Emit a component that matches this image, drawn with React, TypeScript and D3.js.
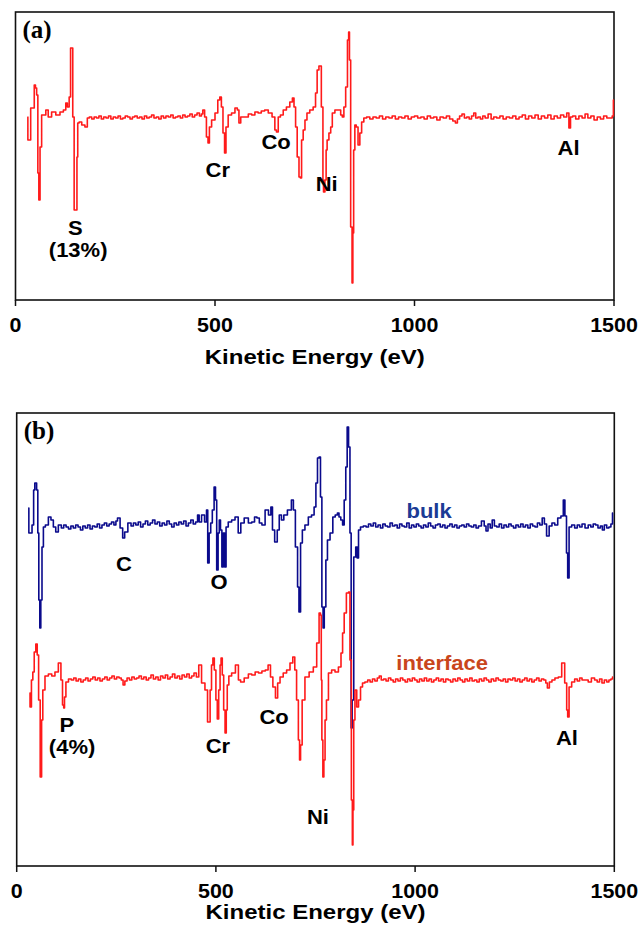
import React from "react";
import * as d3 from "d3";

// ---------- data ----------
const TICKS = [0, 500, 1000, 1500];

// Panel (a): Auger spectrum [kinetic energy eV, dN/dE (a.u.)]
const spectrumA: [number, number][] = [
  [30, 1], [32, -22], [38, -22], [38.1, 10], [45, 10], [49, 33], [51, 30], [55, 23], [57, -55], [60, -82],
  [63, -29], [68, 3], [74, 3], [78, 8], [86, 1], [95, 6], [107, 3], [116, 6], [124, 8], [128, 15],
  [132, 11], [137, 21], [139, 70], [142, 70], [145, 1], [149, -92], [153, -92], [155, -39], [157, -5],
  [162, -4], [170, -7], [178, -9], [182, 0],
  [188, 1], [194, -1], [200, 1], [206, 0], [212, 2], [218, -1], [224, 1], [230, 0], [236, 2], [242, -1],
  [248, 1], [254, 0], [260, 2], [266, -1], [272, 0], [278, 2], [284, 1], [290, -1], [296, 1], [302, 2],
  [308, 0], [314, 1], [320, -1], [326, 2], [332, 0], [338, 1], [344, 3], [350, 0], [356, 1], [362, -1],
  [368, 2], [374, 0], [380, 2], [386, 1], [392, 3], [398, 0], [404, 1], [410, 2], [416, 0], [422, 3],
  [428, 1], [434, 2], [440, 4], [446, 1], [452, 3], [458, 5], [464, 2], [468, 4],
  [471, 8], [477, 1], [480, -19], [485, -25], [487, -9], [496, -2], [504, 5], [510, 18], [514, 21],
  [518, 11], [522, -15], [526, -35], [529, -9], [537, 3], [546, 5], [554, 10], [558, 8], [562, -5],
  [567, 1], [579, 1], [588, 4], [596, 3], [604, 6], [612, 5], [620, 7], [629, 8], [638, 5], [648, 1],
  [652, -12], [656, -14], [661, 1], [667, 3], [675, 8], [683, 11], [692, 16], [696, 20], [700, 11],
  [704, -9], [708, -39], [713, -59], [715, -60], [719, -22], [723, -12], [728, -2], [733, 5], [742, 8],
  [750, 11], [754, 25], [758, 48], [763, 52], [770, 11], [771, -62], [773, -74], [778, -62], [779, -32],
  [783, -22], [788, -15], [792, -9], [796, 5], [805, 8], [813, 8], [817, 3], [821, 1], [825, 11],
  [830, 31], [834, 78], [836, 86], [838, 58], [842, -109], [845, -165], [846, -115], [849, -32],
  [852, -7], [856, -9], [861, -27], [865, -15], [870, -4], [876, 0],
  [884, 1], [892, -1], [900, 1], [908, 0], [916, 2], [924, -1], [932, 1], [940, 0], [948, 2], [956, -1],
  [964, 1], [972, 0], [980, 2], [988, -1], [996, 1], [1004, 2], [1012, 0], [1020, 1], [1028, -1],
  [1036, 2], [1044, 0], [1052, 1], [1060, -2], [1068, 1], [1076, 0], [1084, 2], [1092, -1], [1100, -3],
  [1105, -5], [1110, -1], [1116, 2], [1122, 4], [1128, 0], [1134, 1], [1140, -1], [1146, 2], [1151, 5],
  [1156, 0], [1162, 1], [1168, -1], [1174, 2], [1180, 0], [1189, 4], [1195, -1], [1202, 1], [1210, 0],
  [1218, 2], [1226, -1], [1234, 1], [1242, 0], [1250, 2], [1258, -1], [1266, 1], [1274, 3], [1282, -1],
  [1290, 2], [1298, 0], [1306, 3], [1314, -1], [1322, 2], [1330, 0], [1338, 3], [1346, -1], [1354, 2],
  [1362, 0], [1370, 3], [1378, 1], [1385, 5], [1389, -10], [1393, 1], [1400, 2], [1408, -1], [1416, 2],
  [1424, 0], [1431, 4], [1438, 0], [1446, 2], [1454, -2], [1462, 1], [1470, -1], [1478, 2], [1486, 0],
  [1494, 0], [1497, 2], [1500, 18],
];

// Panel (b): bulk spectrum
const spectrumBulk: [number, number][] = [
  [29, 18], [32, -7], [38, -7], [39, 1], [42, 1], [43, 36], [48, 43], [52, 36], [54, -7], [57, -74],
  [59, -102], [62, -74], [65, -21], [69, -1], [75, 1], [84, 9], [88, 6], [96, -1], [100, -6], [109, 1],
  [115, -2], [121, 1], [127, -1], [133, -3], [139, 0], [145, -2], [151, 1], [157, -1], [163, -4], [169, 0],
  [175, -2], [181, 1], [187, -3], [193, 0], [199, -1], [205, 2], [211, -2], [217, 1], [223, 3], [229, 0],
  [235, 2], [241, 4], [247, 1], [251, 5], [255, 8], [264, -2], [268, -12], [274, -6], [284, 3],
  [290, 0], [296, 3], [302, 1], [308, 4], [314, -1], [320, 2], [326, 5], [332, 1], [338, 3], [344, 6],
  [350, 2], [356, 4], [362, 0], [368, 3], [374, 1], [380, 5], [386, 2], [392, -1], [398, 3], [404, 1],
  [410, 4], [416, 2], [422, 5], [428, 0], [434, 3], [440, 6], [446, 2], [452, 4],
  [456, 11], [460, 4], [468, 11], [475, 4], [478, 16], [481, -37], [485, -7], [489, 3], [493, 16],
  [498, 39], [500, 26], [504, -44], [507, -7], [510, 6], [513, -4], [517, -41], [520, -7], [524, -41],
  [527, -1], [535, 4], [544, 6], [552, 9], [560, -7], [565, 3], [577, 8], [586, 3], [594, 4], [600, 9],
  [606, 8], [612, 3], [619, 1], [628, 16], [636, 11], [640, 19], [644, -4], [651, -16], [657, -4],
  [661, 11], [668, 6], [673, 11], [686, 16], [693, 26], [696, 16], [703, -21], [707, -61], [710, -86],
  [715, -17], [719, -4], [728, 1], [736, 9], [744, 11], [749, 19], [753, 43], [757, 68], [761, 69],
  [764, 29], [768, -81], [770, -102], [774, -81], [778, -34], [782, -14], [791, -7], [796, 9], [803, 11],
  [807, 13], [811, 9], [816, 6], [820, 1], [824, 26], [828, 59], [831, 99], [835, 79], [838, -7],
  [841, -202], [843, -174], [849, -31], [853, -21], [856, -32], [860, -4], [866, -1], [874, 0],
  [880, -1], [886, 2], [892, 0], [898, 3], [904, -1], [910, 1], [916, -2], [922, 2], [928, 0], [934, -1],
  [940, 3], [946, 0], [952, 1], [958, -2], [964, 2], [970, 0], [976, -1], [982, 3], [988, -2], [994, 1],
  [1000, -1], [1006, 2], [1012, 0], [1018, -2], [1024, 1], [1030, -1], [1036, 3], [1042, 0], [1048, -2],
  [1054, 1], [1060, 2], [1066, -1], [1072, 1], [1078, -2], [1084, 0], [1090, 2], [1096, -1], [1102, 1],
  [1108, -2], [1114, 0], [1120, 1], [1126, -1], [1132, 2], [1138, 0], [1144, -1], [1150, 1], [1156, -2],
  [1162, 0], [1171, 5], [1176, 0], [1180, -5], [1186, 2], [1191, -2], [1196, 6], [1202, 0], [1208, -1],
  [1214, 2], [1220, -2], [1226, 1], [1232, -1], [1238, 2], [1244, 0], [1250, -2], [1256, 1], [1262, -1],
  [1268, 2], [1274, -1], [1280, 1], [1286, -2], [1292, 2], [1298, 0], [1304, -1], [1310, 3], [1316, 1],
  [1322, 8], [1327, 2], [1333, -10], [1340, 0], [1347, 3], [1354, 1], [1362, 8], [1370, 10], [1374, 26],
  [1378, 10], [1382, -27], [1384, -52], [1389, -1], [1397, 1], [1404, -2], [1410, 1], [1416, -1],
  [1422, 2], [1431, -2], [1438, 1], [1444, -1], [1450, 2], [1456, 1], [1462, -2], [1468, 0], [1472, -4],
  [1478, 1], [1484, -2], [1489, -1], [1494, 2], [1497, 13],
];

// Panel (b): interface spectrum
const spectrumInterface: [number, number][] = [
  [32, -13], [35, -27], [39, 0], [42, 8], [46, 28], [50, 36], [53, 25], [57, -20], [61, -97], [64, -40],
  [67, -10], [75, 4], [84, 6], [92, 4], [100, 8], [109, 17], [113, 0], [117, -25], [119, -28], [121, -17],
  [126, -2], [134, 1],
  [140, 0], [146, 2], [152, -1], [158, 1], [164, -2], [170, 0], [176, 2], [182, -1], [188, 1], [194, 3],
  [200, 0], [206, 2], [212, -1], [218, 1], [224, 3], [230, 0], [236, 2], [242, 4], [248, 1], [254, 3],
  [260, 2], [265, 0], [269, -5], [274, -1], [280, 2], [286, 0], [292, 3], [298, 1], [304, 2], [310, 4],
  [316, 1], [322, 3], [328, 0], [334, 2], [340, 5], [346, 1], [352, 3], [358, 0], [364, 4], [370, 2],
  [376, 5], [382, 1], [388, 3], [394, 6], [400, 2], [406, 4], [412, 1], [418, 5], [424, 3], [430, 6],
  [436, 2], [442, 4], [448, 7], [454, 3],
  [460, 15], [468, -3], [477, -10], [481, -42], [484, -42], [487, -10], [491, 15], [494, 22], [498, 10],
  [502, -20], [505, -39], [509, -10], [512, 15], [514, 22], [518, 5], [521, -30], [525, -53], [527, -30],
  [530, -5], [535, 4], [544, 7], [554, 15], [559, 0], [565, -2], [577, 2], [586, 6], [594, 5], [603, 8],
  [611, 7], [620, 9], [628, 10], [634, 15], [640, 3], [646, -7], [653, -18], [657, -3], [665, 3],
  [673, 7], [682, 10], [690, 17], [696, 23], [700, 10], [705, -20], [709, -60], [711, -80], [714, -65],
  [719, -20], [728, 3], [740, 8], [749, 13], [757, 37], [761, 67], [764, 65], [765, 0], [767, -60],
  [770, -97], [772, -80], [776, -40], [779, -20], [786, 7], [795, 10], [803, 8], [812, 13], [816, 27],
  [820, 47], [824, 67], [831, 87], [835, 88], [838, 20], [842, -120], [843, -165], [845, -130],
  [847, -40], [851, -10], [856, -27], [860, -20], [866, -7], [870, -3], [878, -2],
  [884, 0], [890, -2], [896, 1], [902, -1], [908, 2], [912, 4], [918, 0], [924, 1], [930, -1], [936, 2],
  [942, 0], [948, -2], [954, 1], [960, -1], [966, 2], [972, 0], [978, -2], [984, 1], [990, -1], [996, 2],
  [1002, 0], [1008, -2], [1014, 1], [1020, -1], [1026, 2], [1032, -1], [1038, 1], [1044, -2], [1050, 0],
  [1056, 2], [1062, -1], [1068, 1], [1074, -2], [1080, 1], [1086, 0], [1092, -2], [1098, 1], [1104, -1],
  [1110, 2], [1116, 0], [1122, -2], [1128, 1], [1134, -1], [1140, 2], [1146, -1], [1152, 0], [1158, -2],
  [1164, 1], [1170, -1], [1176, 2], [1182, 0], [1188, -2], [1194, 1], [1200, -1], [1206, 2], [1212, 0],
  [1218, -1], [1224, 1], [1230, -2], [1236, 1], [1242, 0], [1248, 2], [1254, -1], [1260, 1], [1266, -2],
  [1272, 0], [1278, 2], [1284, -1], [1290, 1], [1296, -2], [1302, 0], [1308, 2], [1314, -1], [1320, 1],
  [1326, 0], [1330, -3], [1334, -8], [1340, -2], [1347, 0], [1355, 2], [1364, 3], [1372, 17], [1379, -3],
  [1382, -30], [1384, -37], [1389, -7], [1397, -2], [1404, 1], [1410, -1], [1416, 2], [1422, 0],
  [1431, 0], [1438, -2], [1447, 2], [1454, 0], [1460, -2], [1466, 1], [1472, -3], [1478, 0], [1484, -2],
  [1489, 0], [1494, 1], [1497, 3],
];
const BULK_OFFSET = 154;

const labelsA = [
  { text: "S", e: 150, v: -110 },
  { text: "(13%)", e: 157, v: -132 },
  { text: "Cr", e: 507, v: -52 },
  { text: "Co", e: 653, v: -24 },
  { text: "Ni", e: 780, v: -66 },
  { text: "Al", e: 1386, v: -30 },
];
const labelsB = [
  { text: "C", e: 269, v: 116, color: "#000" },
  { text: "O", e: 508, v: 98, color: "#000" },
  { text: "bulk", e: 1035, v: 169, color: "#1b3b95" },
  { text: "interface", e: 1068, v: 17, color: "#c9461c" },
  { text: "P", e: 126, v: -45, color: "#000" },
  { text: "(4%)", e: 139, v: -67, color: "#000" },
  { text: "Cr", e: 505, v: -66, color: "#000" },
  { text: "Co", e: 646, v: -37, color: "#000" },
  { text: "Ni", e: 756, v: -137, color: "#000" },
  { text: "Al", e: 1381, v: -58, color: "#000" },
];

const SANS = "'Liberation Sans', Arial, sans-serif";
const SERIF = "'Liberation Serif', 'Times New Roman', serif";

function Label({ x, y, text, color = "#000", size = 20 }: any) {
  return (
    <text
      transform={`translate(${x},${y}) scale(1.1,1)`}
      textAnchor="middle"
      dominantBaseline="central"
      fontFamily={SANS}
      fontWeight="bold"
      fontSize={size}
      fill={color}
    >
      {text}
    </text>
  );
}

function Panel({ x0, x1, y0, y1, domain, series, labels, tag, titleY }: any) {
  const xs = d3.scaleLinear().domain([0, 1500]).range([x0, x1]);
  const ys = d3.scaleLinear().domain(domain).range([y1, y0]);
  return (
    <g>
      <rect x={x0} y={y0} width={x1 - x0} height={y1 - y0} fill="none" stroke="#111" strokeWidth={1.6} />
      {series.map((s: any, i: number) => {
        const line = d3
          .line<[number, number]>()
          .curve(d3.curveStep)
          .x((d) => xs(d[0]))
          .y((d) => ys(d[1] + s.offset));
        return <path key={i} d={line(s.data) || ""} fill="none" stroke={s.color} strokeWidth={1.6} strokeLinejoin="round" />;
      })}
      {TICKS.map((t) => (
        <g key={t}>
          <line x1={xs(t)} x2={xs(t)} y1={y1} y2={y1 + 6} stroke="#111" strokeWidth={1.5} />
          <Label x={xs(t)} y={y1 + 25} text={String(t)} size={19.5} />
        </g>
      ))}
      <text
        x={(x0 + x1) / 2}
        y={titleY}
        textAnchor="middle"
        dominantBaseline="central"
        fontFamily={SANS}
        fontWeight="bold"
        fontSize={20}
        textLength={220}
        lengthAdjust="spacingAndGlyphs"
      >
        Kinetic Energy (eV)
      </text>
      <text x={x0 + 7} y={y0 + 26} fontFamily={SERIF} fontWeight="bold" fontSize={25}>
        {tag}
      </text>
      {labels.map((l: any, i: number) => (
        <Label key={i} x={xs(l.e)} y={ys(l.v)} text={l.text} color={l.color || "#000"} />
      ))}
    </g>
  );
}

export default function App() {
  return (
    <svg
      width={640}
      height={937}
      style={{ position: "absolute", left: 0, top: 0, background: "#fff" }}
    >
      <Panel
        x0={15.5}
        x1={614}
        y0={12}
        y1={300}
        domain={[-182, 106]}
        series={[{ data: spectrumA, color: "#ff1a1a", offset: 0 }]}
        labels={labelsA}
        tag="(a)"
        titleY={357}
      />
      <Panel
        x0={16.7}
        x1={614.3}
        y0={413}
        y1={866}
        domain={[-186, 267]}
        series={[
          { data: spectrumBulk, color: "#0a0a8c", offset: BULK_OFFSET },
          { data: spectrumInterface, color: "#ff1a1a", offset: 0 },
        ]}
        labels={labelsB}
        tag="(b)"
        titleY={912}
      />
    </svg>
  );
}
